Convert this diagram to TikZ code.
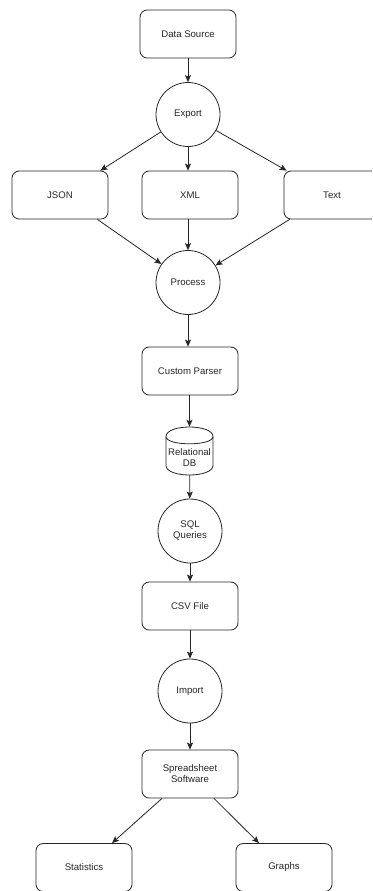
\documentclass[tikz,border=0pt]{standalone}
\usepackage{fontspec}
\setmainfont{Liberation Sans}
\usetikzlibrary{arrows.meta,calc}
\begin{document}
\begin{tikzpicture}[x=1pt,y=-1pt,
  every node/.style={font=\fontsize{9.6}{11}\selectfont, text=black!85},
  box/.style={draw=black!85, line width=0.8pt, rounded corners=7.2pt, minimum width=96pt, minimum height=48pt, align=center, inner sep=0pt},
  circ/.style={draw=black!85, line width=0.8pt, circle, minimum size=64pt, inner sep=0pt, align=center},
  ghost/.style={minimum width=47pt, minimum height=48pt, inner sep=0pt},
  arr/.style={draw=black!85, line width=0.8pt, -{Stealth[length=7pt,width=6pt,inset=1.5pt]}}]
\useasboundingbox (0,0) rectangle (372,891);
\clip (0,0) rectangle (372,891);
\fill[white] (0,0) rectangle (372,891);

\node[box]  (src)    at (188,34)  {Data Source};
\node[circ] (export) at (188,114.5) {Export};
\node[box]  (json)   at (60,195)  {JSON};
\node[box]  (xml)    at (190,195) {XML};
\node[box]  (txt)    at (332,195) {Text};
\node[circ] (proc)   at (188,282.5) {Process};
\node[box]  (parser) at (190,371) {Custom Parser};
\node[ghost] (db)    at (189.5,451) {};
\draw[black!85, line width=0.8pt, fill=white]
  (166,436.6) .. controls (166,423.8) and (213,423.8) .. (213,436.6)
  -- (213,465.4) .. controls (213,478.2) and (166,478.2) .. (166,465.4) -- cycle;
\draw[black!85, line width=0.8pt]
  (166,436.6) .. controls (166,446.2) and (213,446.2) .. (213,436.6);
\node[align=center] (dblabel) at (189.5,458) {Relational\\DB};
\node[circ] (sql)    at (190,531) {SQL\\Queries};
\node[box]  (csv)    at (190,606) {CSV File};
\node[circ] (imp)    at (190,691) {Import};
\node[box]  (ss)     at (190,774) {Spreadsheet\\Software};
\node[box]  (stat)   at (84,867.5) {Statistics};
\node[box]  (graphs) at (284,867.5) {Graphs};

\draw[arr] (src) -- (export);
\draw[arr] (export) -- ($(json.north east)+(-8,0)$);
\draw[arr] (export) -- (export |- xml.north);
\draw[arr] (export) -- ($(txt.north west)+(3,0)$);
\draw[arr] ($(json.south east)+(-11,0)$) -- (proc);
\draw[arr] (xml.south -| proc) -- (proc);
\draw[arr] ($(txt.south west)+(6,0)$) -- (proc);
\draw[arr] (proc) -- (proc |- parser.north);
\draw[arr] (parser.south -| db) -- (db);
\draw[arr] (db) -- (sql);
\draw[arr] (sql) -- (csv);
\draw[arr] (csv) -- (imp);
\draw[arr] (imp) -- (ss);
\draw[arr] ($(ss.south)+(-28,0)$) -- ($(stat.north)+(28,0)$);
\draw[arr] ($(ss.south)+(24,0)$) -- ($(graphs.north)+(-25,0)$);
\end{tikzpicture}
\end{document}
